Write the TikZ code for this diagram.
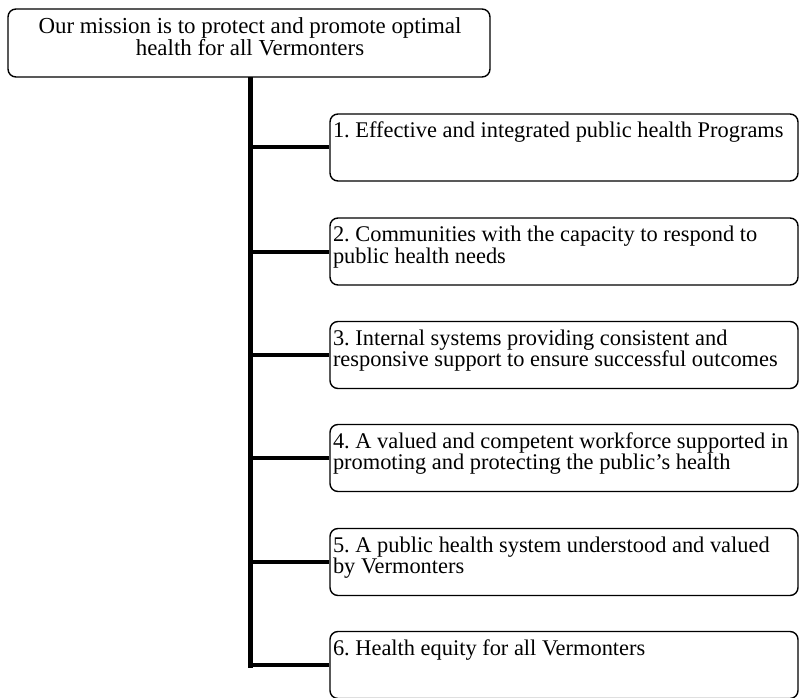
\documentclass[tikz,border=0pt]{standalone}
\usepackage{fontspec}
\setmainfont{Liberation Serif}
\begin{document}
\frenchspacing
\begin{tikzpicture}[x=1pt,y=-1pt,
  mbox/.style={draw, line width=1.4pt, rounded corners=8pt, minimum width=482pt, minimum height=68pt, inner sep=0pt},
  gbox/.style={draw, line width=1.4pt, rounded corners=8pt, minimum width=468pt, minimum height=67pt, inner sep=0pt},
  gtext/.style={anchor=north west, align=left, inner sep=0pt, font=\fontsize{22.4}{21.5}\selectfont},
  mtext/.style={anchor=north, align=center, inner sep=0pt, font=\fontsize{22.9}{22}\selectfont},
  spineline/.style={line width=5pt},
  branchline/.style={line width=4pt}]
\useasboundingbox (0,0) rectangle (801,698);
\newcommand{\firstline}{\rule{0pt}{17pt}}
\node[mbox] (mission) at (249,43) {};
\node[mtext] (mt) at (250,16) {\firstline Our mission is to protect and promote optimal\\health for all Vermonters};
\foreach \i/\y in {1/147.5,2/251.5,3/355,4/458,5/562,6/665}{
  \node[gbox] (b\i) at (564,\y) {};
}
\coordinate (spinetop) at (250,77.5);
\coordinate (spineend) at (250,668);
\node[gtext] (t1) at ([xshift=3.5pt,yshift=-7pt]b1.north west) {\firstline 1. Effective and integrated public health Programs};
\node[gtext] (t2) at ([xshift=3.5pt,yshift=-7pt]b2.north west) {\firstline 2. Communities with the capacity to respond to\\public health needs};
\node[gtext] (t3) at ([xshift=3.5pt,yshift=-7pt]b3.north west) {\firstline 3. Internal systems providing consistent and\\responsive support to ensure successful outcomes};
\node[gtext] (t4) at ([xshift=3.5pt,yshift=-7pt]b4.north west) {\firstline 4. A valued and competent workforce supported in\\promoting and protecting the public's health};
\node[gtext] (t5) at ([xshift=3.5pt,yshift=-7pt]b5.north west) {\firstline 5. A public health system understood and valued\\by Vermonters};
\node[gtext] (t6) at ([xshift=3.5pt,yshift=-7pt]b6.north west) {\firstline 6. Health equity for all Vermonters};
\draw[spineline] (spinetop) -- (spineend);
\foreach \i in {1,...,6}{
  \draw[branchline] (b\i.west -| spinetop) -- (b\i.west);
}
\end{tikzpicture}
\end{document}
